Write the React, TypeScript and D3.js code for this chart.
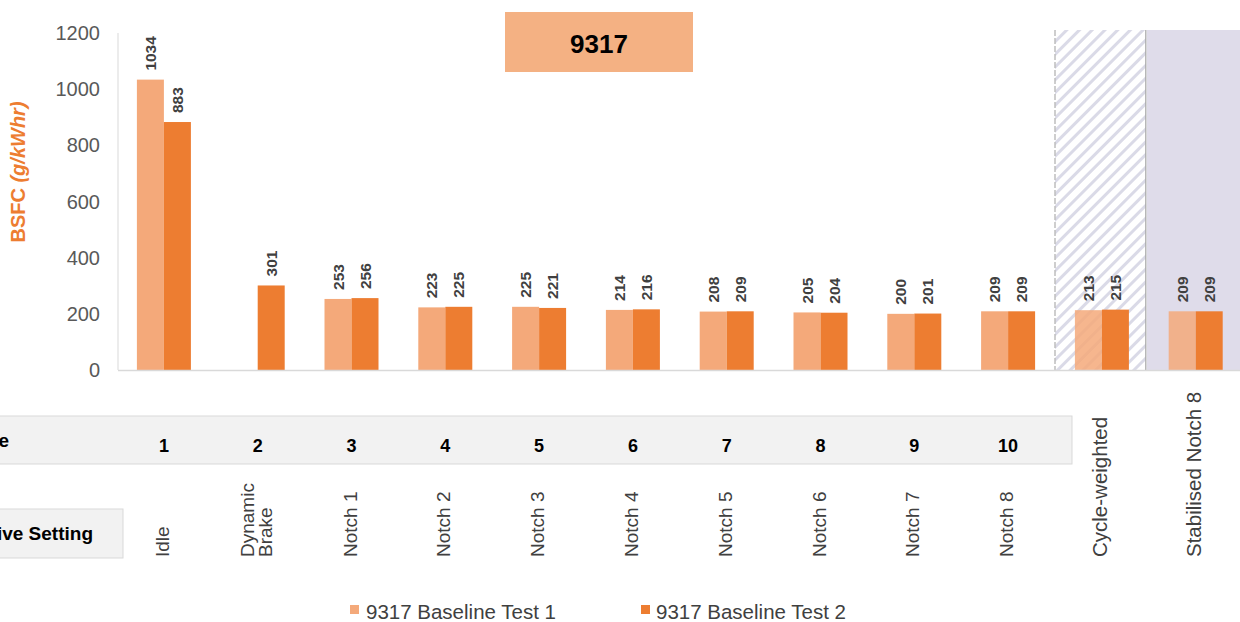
import React from "react";
import * as d3 from "d3";

const categories = ["Idle", "Dynamic Brake", "Notch 1", "Notch 2", "Notch 3", "Notch 4", "Notch 5", "Notch 6", "Notch 7", "Notch 8", "Cycle-weighted", "Stabilised Notch 8"];
const modeLabels = ["1", "2", "3", "4", "5", "6", "7", "8", "9", "10", "", ""];
const test1: (number | null)[] = [1034, null, 253, 223, 225, 214, 208, 205, 200, 209, 213, 209];
const test2: (number | null)[] = [883, 301, 256, 225, 221, 216, 209, 204, 201, 209, 215, 209];
const seriesNames = ["9317 Baseline Test 1", "9317 Baseline Test 2"];
const yTicks = [0, 200, 400, 600, 800, 1000, 1200];
const title = "9317";

const W = 1240, H = 622;
const C1 = "#f4a97a", C2 = "#ed7d31";
const FONT = "'Liberation Sans', Arial, sans-serif";
const NARROW = "'Liberation Sans Narrow', 'Arial Narrow', 'Liberation Sans', sans-serif";

export default function App() {
  const y = d3.scaleLinear().domain([0, 1200]).range([370, 33]);
  const x = d3.scaleBand<string>().domain(categories).range([117, 117 + 12 * 93.8]).padding(0);
  const bw = 27;
  const cx = (c: string) => (x(c) as number) + x.bandwidth() / 2;
  const hatchX0 = x(categories[10]) as number;
  const purpleX0 = (x(categories[11]) as number) - 3;

  const bars: JSX.Element[] = [];
  const labels: JSX.Element[] = [];
  categories.forEach((c, i) => {
    const vals = [test1[i], test2[i]];
    vals.forEach((v, s) => {
      if (v == null) return;
      const bx = cx(c) - bw + s * bw;
      const special = i >= 10 && s === 0;
      bars.push(
        <rect key={`b${i}-${s}`} x={bx} y={y(v)} width={bw} height={370 - y(v)}
          fill={s === 0 ? C1 : C2} opacity={special ? 0.85 : 1} />
      );
      const lx = bx + bw / 2;
      const ly = y(v) - 9;
      labels.push(
        <text key={`l${i}-${s}`} transform={`translate(${lx + 5.5},${ly}) rotate(-90)`}
          fontFamily={NARROW} fontWeight="bold" fontSize={15.5} fill="#404040">{v}</text>
      );
    });
  });

  return (
    <svg width={W} height={H} style={{ position: "absolute", left: 0, top: 0, background: "#fff" }}>
      <defs>
        <pattern id="hatch" width="9" height="9" patternUnits="userSpaceOnUse" patternTransform="rotate(45)">
          <rect width="9" height="9" fill="#ffffff" />
          <rect x="0" y="0" width="3" height="9" fill="#dadae7" />
        </pattern>
      </defs>

      {/* shaded regions */}
      <rect x={hatchX0} y={30} width={purpleX0 - hatchX0} height={340} fill="url(#hatch)" />
      <rect x={purpleX0 + 1} y={30} width={W - purpleX0} height={340} fill="#dfdcea" />
      <line x1={hatchX0} x2={hatchX0} y1={30} y2={370} stroke="#bfbfbf" strokeWidth={1.5} strokeDasharray="6,2" />
      <line x1={purpleX0} x2={purpleX0} y1={30} y2={370} stroke="#a6a6a6" strokeWidth={1.2} />

      {/* y axis */}
      <line x1={118} x2={118} y1={33} y2={370} stroke="#d9d9d9" strokeWidth={1} />
      {yTicks.map(t => (
        <text key={t} x={100} y={y(t) + 7} textAnchor="end" fontFamily={FONT} fontSize={20} fill="#595959">{t}</text>
      ))}
      <text transform="translate(25,172) rotate(-90)" textAnchor="middle" fontFamily={FONT} fontWeight="bold" fontSize={20} fill={C2}>
        BSFC <tspan fontStyle="italic">(g/kWhr)</tspan>
      </text>

      {bars}
      <line x1={118} x2={W} y1={370.5} y2={370.5} stroke="#d9d9d9" strokeWidth={1.5} />
      {labels}

      {/* title */}
      <rect x={505} y={12} width={188} height={60} fill="#f4b183" />
      <text x={599} y={53} textAnchor="middle" fontFamily={FONT} fontWeight="bold" fontSize={26} fill="#000">{title}</text>

      {/* mode row */}
      <rect x={-2} y={416} width={1074} height={48} fill="#f2f2f2" stroke="#d9d9d9" strokeWidth={1} />
      <text x={9} y={447} textAnchor="end" fontFamily={FONT} fontWeight="bold" fontSize={19} fill="#000">Mode</text>
      {categories.map((c, i) => modeLabels[i] ? (
        <text key={`m${i}`} x={cx(c)} y={452} textAnchor="middle" fontFamily={FONT} fontWeight="bold" fontSize={18} fill="#000">{modeLabels[i]}</text>
      ) : null)}

      {/* setting row */}
      <rect x={-2} y={509} width={125} height={49} fill="#f2f2f2" stroke="#d9d9d9" strokeWidth={1} />
      <text x={93} y={540} textAnchor="end" fontFamily={FONT} fontWeight="bold" fontSize={19} fill="#000">Drive Setting</text>
      {categories.map((c, i) => {
        const parts = c === "Dynamic Brake" ? ["Dynamic", "Brake"] : [c];
        const fs = i >= 10 ? 20.5 : 19;
        return parts.map((p, k) => (
          <text key={`s${i}-${k}`} transform={`translate(${cx(c) - 2 + (k - (parts.length - 1) / 2) * 18 + 7},557) rotate(-90)`}
            fontFamily={FONT} fontSize={fs} fill="#404040">{p}</text>
        ));
      })}

      {/* legend */}
      <rect x={350} y={605} width={9} height={9} fill={C1} />
      <text x={366} y={619} fontFamily={FONT} fontSize={20.5} fill="#404040">{seriesNames[0]}</text>
      <rect x={641} y={605} width={9} height={9} fill={C2} />
      <text x={656} y={619} fontFamily={FONT} fontSize={20.5} fill="#404040">{seriesNames[1]}</text>
    </svg>
  );
}
